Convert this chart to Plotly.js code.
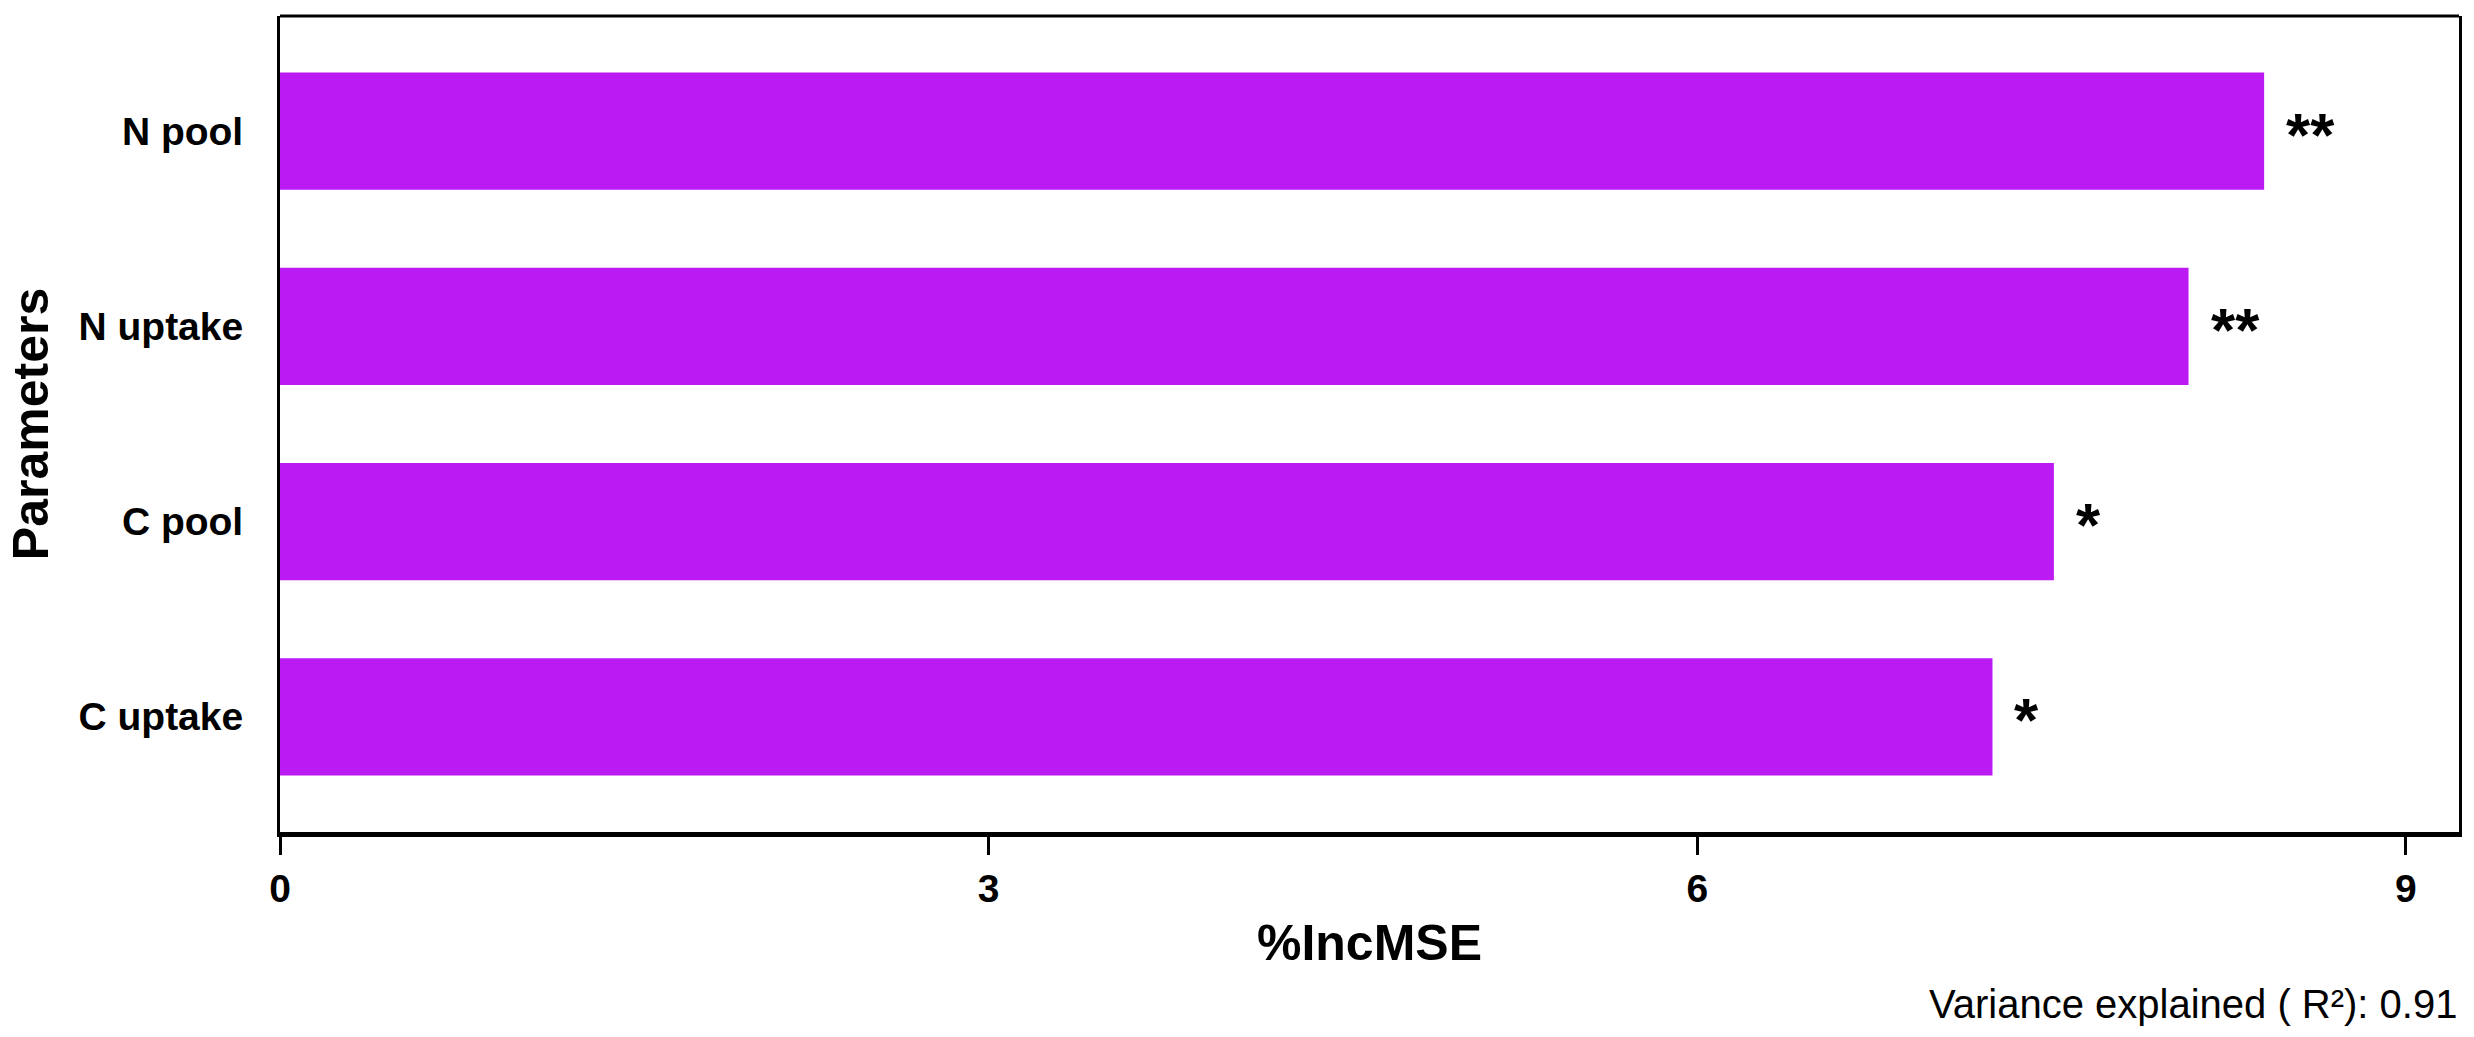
<!DOCTYPE html>
<html>
<head>
<meta charset="utf-8">
<script src="https://cdn.plot.ly/plotly-3.0.1.min.js"></script>
<style>
  html, body { margin: 0; padding: 0; background: #fff; }
  #chart { width: 2474px; height: 1037px; }
</style>
</head>
<body>
<div id="chart"></div>
<script>
// Data
const categories = ['C uptake', 'C pool', 'N uptake', 'N pool'];
const incMSE = [7.25, 7.51, 8.08, 8.40];
const significance = ['*', '*', '**', '**'];
const xTickValues = [0, 3, 6, 9];
const noteText = 'Variance explained ( R\u00b2): 0.91';

const FONT = '"Liberation Sans", Arial, Helvetica, sans-serif';

const trace = {
  type: 'bar',
  orientation: 'h',
  x: incMSE,
  y: categories,
  marker: { color: '#BB1BF2', line: { width: 0 } },
  hoverinfo: 'x+y'
};

const annotations = categories.map((c, i) => ({
  x: incMSE[i],
  y: c,
  xref: 'x',
  yref: 'y',
  text: '<b>' + significance[i] + '</b>',
  showarrow: false,
  xanchor: 'left',
  yanchor: 'middle',
  xshift: 20,
  yshift: -3,
  font: { family: FONT, size: 62, color: '#000' }
}));

annotations.push({
  x: 1,
  y: 0,
  xref: 'paper',
  yref: 'paper',
  xanchor: 'right',
  yanchor: 'top',
  yshift: -148,
  xshift: 0,
  text: noteText,
  showarrow: false,
  font: { family: FONT, size: 40, color: '#000' }
});

const layout = {
  width: 2474,
  height: 1037,
  paper_bgcolor: '#fff',
  plot_bgcolor: '#fff',
  margin: { l: 280, r: 15, t: 16, b: 205 },
  showlegend: false,
  bargap: 0.4,
  font: { family: FONT, color: '#000' },
  xaxis: {
    range: [0, 9.225],
    tickvals: xTickValues,
    ticktext: xTickValues.map(String),
    ticks: 'outside',
    ticklen: 18,
    tickwidth: 3,
    tickcolor: '#000',
    showline: true,
    linewidth: 5,
    linecolor: '#000',
    showgrid: false,
    zeroline: false,
    tickfont: { family: FONT, size: 39, color: '#000', weight: 'bold' },
    title: { text: '<b>%IncMSE</b>', font: { family: FONT, size: 50, color: '#000' }, standoff: 18 }
  },
  yaxis: {
    type: 'category',
    categoryorder: 'array',
    categoryarray: categories,
    range: [-0.59, 3.59],
    ticks: '',
    showline: true,
    linewidth: 3,
    linecolor: '#000',
    mirror: true,
    showgrid: false,
    zeroline: false,
    ticklabelstandoff: 26,
    tickfont: { family: FONT, size: 39, color: '#000', weight: 'bold' },
    title: { text: '<b>Parameters</b>', font: { family: FONT, size: 50, color: '#000' }, standoff: 14 }
  },
  shapes: [{
    type: 'line', xref: 'paper', yref: 'paper',
    x0: 0, x1: 1, y0: 1, y1: 1,
    line: { color: '#000', width: 3 }
  }],
  annotations: annotations
};

Plotly.newPlot('chart', [trace], layout, { displayModeBar: false, staticPlot: true });
</script>
</body>
</html>
